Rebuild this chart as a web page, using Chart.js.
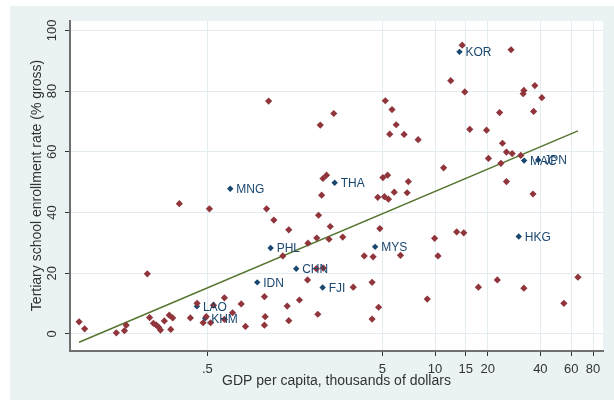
<!DOCTYPE html>
<html>
<head>
<meta charset="utf-8">
<script src="https://cdn.jsdelivr.net/npm/chart.js@4/dist/chart.umd.min.js"></script>
<style>
  html, body { margin: 0; padding: 0; background: #ffffff; }
  #wrap { width: 614px; height: 400px; }
</style>
</head>
<body>
<div id="wrap"><canvas id="c" width="614" height="400"></canvas></div>
<script>
// Other countries: GDP per capita (thousands of dollars) and tertiary enrollment (% gross)
const otherGdp = [
  0.0925, 0.0995, 0.151, 0.168, 0.172, 0.227, 0.234, 0.246, 0.256, 0.264,
  0.270, 0.284, 0.303, 0.309, 0.317, 0.346, 0.400, 0.437, 0.473, 0.493,
  0.514, 0.522, 0.542, 0.626, 0.626, 0.697, 0.781, 0.826, 1.06, 1.06,
  1.07, 1.09, 1.12, 1.20, 1.35, 1.43, 1.46, 1.46, 1.68, 1.88,
  1.87, 2.10, 2.11, 2.14, 2.16, 2.21, 2.25, 2.30, 2.29, 2.40,
  2.48, 2.52, 2.64, 2.97, 3.41, 3.94, 4.37, 4.37, 4.43, 4.71,
  4.76, 4.84, 5.04, 5.20, 5.36, 5.14, 5.42, 5.51, 5.68, 5.85,
  6.00, 6.35, 6.66, 6.93, 7.04, 8.01, 9.03, 9.95, 10.4, 11.2,
  12.3, 13.3, 14.3, 14.6, 14.8, 15.8, 17.7, 19.7, 20.2, 22.7,
  23.4, 23.8, 24.3, 25.6, 25.6, 27.2, 27.6, 30.9, 31.9, 32.2,
  32.2, 36.3, 36.6, 37.2, 40.8, 54.5, 65.6
];
const otherEnroll = [
  4.0, 1.7, 0.4, 1.1, 2.9, 19.8, 5.4, 3.5, 2.9, 2.2,
  1.3, 4.3, 6.2, 1.5, 5.3, 42.9, 5.3, 10.1, 3.7, 5.7,
  41.2, 3.7, 9.5, 11.9, 4.8, 7.0, 9.9, 2.5, 12.3, 2.9,
  5.7, 41.2, 76.7, 37.5, 25.7, 9.2, 34.3, 4.4, 11.2, 29.9,
  17.8, 21.5, 31.6, 6.5, 39.1, 68.8, 45.7, 21.7, 51.2, 52.3,
  31.2, 35.4, 72.6, 31.9, 15.4, 25.7, 4.9, 17.0, 25.4, 45.0,
  8.8, 34.7, 51.5, 76.8, 52.3, 45.2, 44.4, 65.8, 73.9, 46.7,
  68.9, 25.9, 65.7, 46.5, 50.2, 64.0, 11.5, 31.5, 25.7, 54.7,
  83.4, 33.6, 95.1, 33.3, 79.7, 67.4, 15.4, 67.1, 57.8, 17.8,
  72.9, 56.2, 62.8, 50.2, 59.9, 93.6, 59.4, 58.8, 79.1, 80.2,
  15.1, 46.1, 73.3, 81.8, 77.8, 10.1, 18.7
];

// East Asian and Pacific economies, labelled by code
const asiaCodes  = ['KOR', 'MAC', 'JPN', 'HKG', 'THA', 'MNG', 'MYS', 'PHL', 'CHN', 'IDN', 'FJI', 'LAO', 'KHM'];
const asiaGdp    = [13.8, 32.3, 38.9, 30.1, 2.67, 0.676, 4.55, 1.15, 1.61, 0.964, 2.28, 0.436, 0.486];
const asiaEnroll = [92.9, 57.1, 57.3, 32.1, 49.8, 47.8, 28.7, 28.3, 21.5, 17.0, 15.3, 9.1, 5.2];

// Linear fit of enrollment on log GDP, endpoints of the fitted line
const fitGdp    = [0.0925, 65.6];
const fitEnroll = [-2.7, 66.9];

// Axis ticks
const xTickValues = [0.5, 5, 10, 15, 20, 40, 60, 80];
const xTickLabels = ['.5', '5', '10', '15', '20', '40', '60', '80'];
const yTickValues = [0, 20, 40, 60, 80, 100];
const yTickLabels = ['0', '20', '40', '60', '80', '100'];

const xTitle = 'GDP per capita, thousands of dollars';
const yTitle = 'Tertiary school enrollment rate (% gross)';

const toPoints = (xs, ys) => xs.map((x, i) => ({ x: x, y: ys[i] }));

const FONT = '"Liberation Sans", Arial, sans-serif';
const NAVY = '#1a476f';
const MAROON = '#90353b';
const GREEN = '#55752f';
const REGION = '#eaf2f3';
const INK = '#333333';

const backdrop = {
  id: 'backdrop',
  beforeDraw(chart) {
    const ctx = chart.ctx;
    const a = chart.chartArea;
    ctx.save();
    ctx.fillStyle = '#ffffff';
    ctx.fillRect(0, 0, chart.width, chart.height);
    ctx.fillStyle = REGION;
    ctx.fillRect(10, 6, chart.width - 10, chart.height - 6);
    ctx.fillStyle = '#ffffff';
    ctx.fillRect(a.left, a.top, a.right - a.left, a.bottom - a.top);
    ctx.restore();
  }
};

const texts = {
  id: 'texts',
  afterDraw(chart) {
    const ctx = chart.ctx;
    const xs = chart.scales.x;
    const ys = chart.scales.y;
    ctx.save();

    // x tick labels
    const tfs = 13;
    ctx.font = tfs + 'px ' + FONT;
    ctx.fillStyle = INK;
    ctx.textAlign = 'center';
    ctx.textBaseline = 'alphabetic';
    xTickValues.forEach((v, i) => {
      ctx.fillText(xTickLabels[i], xs.getPixelForValue(v), 368 + 0.36 * tfs);
    });

    // y tick labels, rotated
    yTickValues.forEach((v, i) => {
      ctx.save();
      ctx.translate(51.5, ys.getPixelForValue(v));
      ctx.rotate(-Math.PI / 2);
      ctx.fillText(yTickLabels[i], 0, 0.36 * tfs);
      ctx.restore();
    });

    // axis titles
    const afs = 14;
    ctx.font = afs + 'px ' + FONT;
    ctx.fillStyle = INK;
    ctx.fillText(xTitle, (xs.left + xs.right) / 2, 380 + 0.36 * afs);
    ctx.save();
    ctx.translate(36, 185.5);
    ctx.rotate(-Math.PI / 2);
    ctx.fillText(yTitle, 0, 0.36 * afs);
    ctx.restore();

    // marker labels for the highlighted economies
    const lfs = 12;
    ctx.font = lfs + 'px ' + FONT;
    ctx.fillStyle = NAVY;
    ctx.textAlign = 'left';
    const meta = chart.getDatasetMeta(1);
    meta.data.forEach((pt, i) => {
      ctx.fillText(asiaCodes[i], pt.x + 6, pt.y + 0.36 * lfs);
    });

    ctx.restore();
  }
};

new Chart(document.getElementById('c'), {
  type: 'scatter',
  data: {
    datasets: [
      {
        label: 'Other',
        data: toPoints(otherGdp, otherEnroll),
        pointStyle: 'rectRot',
        pointRadius: 3.6,
        pointBorderWidth: 0,
        backgroundColor: MAROON,
        borderColor: MAROON
      },
      {
        label: 'East Asia',
        data: toPoints(asiaGdp, asiaEnroll),
        pointStyle: 'rectRot',
        pointRadius: 3.2,
        pointBorderWidth: 0,
        backgroundColor: NAVY,
        borderColor: NAVY
      },
      {
        type: 'line',
        label: 'Fitted values',
        data: toPoints(fitGdp, fitEnroll),
        showLine: true,
        borderColor: GREEN,
        borderWidth: 1.5,
        pointRadius: 0,
        fill: false
      }
    ]
  },
  options: {
    responsive: false,
    animation: false,
    devicePixelRatio: 1,
    layout: { autoPadding: false, padding: { left: 65, right: 11, top: 21, bottom: 44 } },
    plugins: { legend: { display: false }, tooltip: { enabled: false } },
    scales: {
      x: {
        type: 'logarithmic',
        position: 'bottom',
        min: 0.08208,
        max: 91.2,
        afterBuildTicks: s => { s.ticks = xTickValues.map(v => ({ value: v })); },
        ticks: { display: false },
        grid: { color: '#e3ecee', lineWidth: 1, drawTicks: true, tickLength: 5, tickColor: '#333333', tickWidth: 1 },
        border: { display: true, color: '#6f6f6f', width: 2 }
      },
      y: {
        type: 'linear',
        position: 'left',
        min: -5.6,
        max: 103.06,
        afterBuildTicks: s => { s.ticks = yTickValues.map(v => ({ value: v })); },
        ticks: { display: false },
        grid: { color: '#e3ecee', lineWidth: 1, drawTicks: true, tickLength: 5, tickColor: '#333333', tickWidth: 1 },
        border: { display: true, color: '#6f6f6f', width: 2 }
      }
    }
  },
  plugins: [backdrop, texts]
});
</script>
</body>
</html>
